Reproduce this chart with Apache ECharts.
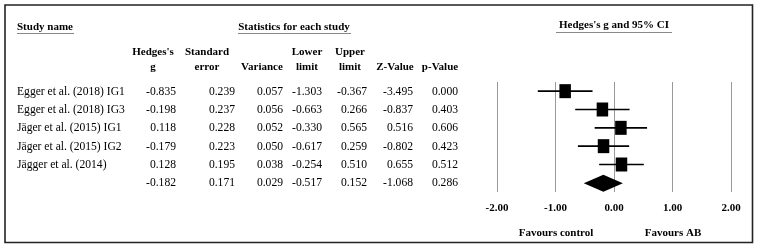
<!DOCTYPE html>
<html>
<head>
<meta charset="utf-8">
<script src="https://cdn.jsdelivr.net/npm/echarts@6/dist/echarts.min.js"></script>
<style>
  html, body { margin: 0; padding: 0; background: #fff; }
  #chart { width: 758px; height: 251px; }
</style>
</head>
<body>
<div id="chart"></div>
<script>
// study rows
const studyNames = ['Egger et al. (2018) IG1', 'Egger et al. (2018) IG3', 'Jäger et al. (2015) IG1', 'Jäger et al. (2015) IG2', 'Jägger et al. (2014)'];
const hedgesG = [-0.835, -0.198, 0.118, -0.179, 0.128];
const stdError = [0.239, 0.237, 0.228, 0.223, 0.195];
const variance = [0.057, 0.056, 0.052, 0.050, 0.038];
const lowerLimit = [-1.303, -0.663, -0.330, -0.617, -0.254];
const upperLimit = [-0.367, 0.266, 0.565, 0.259, 0.510];
const zValue = [-3.495, -0.837, 0.516, -0.802, 0.655];
const pValue = [0.000, 0.403, 0.606, 0.423, 0.512];

// pooled row
const summary = { g: -0.182, se: 0.171, v: 0.029, lo: -0.517, hi: 0.152, z: -1.068, p: 0.286 };

const FONT = '"Liberation Serif", "Times New Roman", serif';
const ROW_TOP = 91.5;
const ROW_STEP = 18.33;

const chart = echarts.init(document.getElementById('chart'), null, { renderer: 'canvas' });

function txt(x, y, text, align, bold, size) {
  return {
    type: 'text', x: x, y: y, silent: true,
    style: {
      text: text, align: align || 'left', verticalAlign: 'middle',
      font: (bold ? 'bold ' : '') + (size || 11) + 'px ' + FONT, fill: '#000'
    }
  };
}
function ln(x1, y1, x2, y2, color, w) {
  return { type: 'line', silent: true, shape: { x1: x1, y1: y1, x2: x2, y2: y2 }, style: { stroke: color, lineWidth: w } };
}

// table columns: right edge of values, centre of header
const columns = [
  { vals: hedgesG, sum: summary.g, right: 176, head: ['Hedges\'s', 'g'], cx: 153 },
  { vals: stdError, sum: summary.se, right: 235, head: ['Standard', 'error'], cx: 207 },
  { vals: variance, sum: summary.v, right: 283, head: ['Variance'], cx: 262 },
  { vals: lowerLimit, sum: summary.lo, right: 322, head: ['Lower', 'limit'], cx: 307 },
  { vals: upperLimit, sum: summary.hi, right: 367, head: ['Upper', 'limit'], cx: 350 },
  { vals: zValue, sum: summary.z, right: 413, head: ['Z-Value'], cx: 395 },
  { vals: pValue, sum: summary.p, right: 458, head: ['p-Value'], cx: 440 }
];

const BODY = 11.6;
const graphics = [];
// frame
graphics.push({ type: 'rect', silent: true, shape: { x: 5, y: 5, width: 747.5, height: 237.5 }, style: { fill: 'none', stroke: '#222', lineWidth: 1.6 } });

// headers
graphics.push(txt(17, 27, 'Study name', 'left', true));
graphics.push(ln(17, 33.5, 74, 33.5, '#888', 1));
graphics.push(txt(294, 27, 'Statistics for each study', 'center', true));
graphics.push(ln(238, 33.5, 351, 33.5, '#888', 1));
graphics.push(txt(614, 25, 'Hedges\'s g and 95% CI', 'center', true));
graphics.push(ln(556, 32.5, 672, 32.5, '#888', 1));

columns.forEach(function (col) {
  if (col.head.length === 2) {
    graphics.push(txt(col.cx, 52, col.head[0], 'center', true));
    graphics.push(txt(col.cx, 67, col.head[1], 'center', true));
  } else {
    graphics.push(txt(col.cx, 67, col.head[0], 'center', true));
  }
  col.vals.forEach(function (v, i) {
    graphics.push(txt(col.right, ROW_TOP + ROW_STEP * i, v.toFixed(3), 'right', false, BODY));
  });
  graphics.push(txt(col.right, ROW_TOP + ROW_STEP * studyNames.length, col.sum.toFixed(3), 'right', false, BODY));
});
studyNames.forEach(function (name, i) {
  graphics.push(txt(17, ROW_TOP + ROW_STEP * i, name, 'left', false, BODY));
});

graphics.push(txt(556, 233, 'Favours control', 'center', true));
graphics.push(txt(673, 233, 'Favours AB', 'center', true));

const option = {
  animation: false,
  backgroundColor: '#fff',
  grid: { left: 497, width: 234, top: 82, height: 110, containLabel: false },
  xAxis: {
    type: 'value', min: -2, max: 2, interval: 1,
    axisLine: { show: false },
    axisTick: { show: false },
    splitLine: { show: true, lineStyle: { color: '#999', width: 1 } },
    axisLabel: {
      margin: 11, fontFamily: FONT, fontWeight: 'bold', fontSize: 11, color: '#000',
      formatter: function (v) { return v.toFixed(2); }
    }
  },
  yAxis: { type: 'value', min: -0.5, max: 5.5, inverse: true, show: false },
  series: [
    {
      type: 'custom',
      renderItem: function (params, api) {
        const a = api.coord([api.value(0), api.value(2)]);
        const b = api.coord([api.value(1), api.value(2)]);
        return { type: 'line', shape: { x1: a[0], y1: a[1], x2: b[0], y2: b[1] }, style: { stroke: '#000', lineWidth: 1.6 } };
      },
      data: lowerLimit.map(function (lo, i) { return [lo, upperLimit[i], i]; })
    },
    {
      type: 'scatter', symbol: 'rect', symbolSize: [11.5, 14],
      itemStyle: { color: '#000', opacity: 1 },
      data: hedgesG.map(function (g, i) { return [g, i]; })
    },
    {
      // pooled estimate diamond
      type: 'custom',
      renderItem: function (params, api) {
        const row = api.value(3);
        const l = api.coord([api.value(0), row]);
        const c = api.coord([api.value(1), row]);
        const r = api.coord([api.value(2), row]);
        const h = 8.5;
        return {
          type: 'polygon',
          shape: { points: [[l[0], l[1] + 0.5], [c[0], c[1] + 0.5 - h], [r[0], r[1] + 0.5], [c[0], c[1] + 0.5 + h]] },
          style: { fill: '#000' }
        };
      },
      data: [[summary.lo, summary.g, summary.hi, studyNames.length]]
    }
  ],
  graphic: graphics
};

chart.setOption(option);
</script>
</body>
</html>
